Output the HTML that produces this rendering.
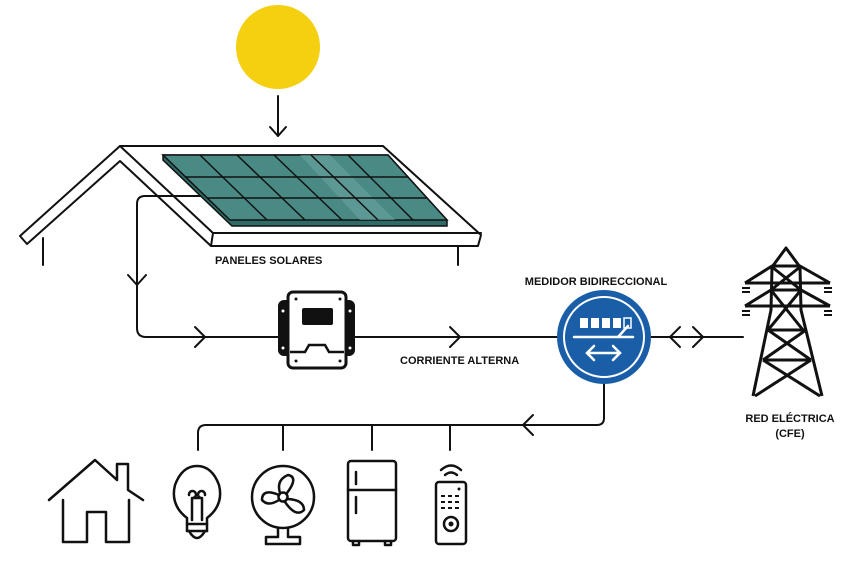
<!DOCTYPE html>
<html><head><meta charset="utf-8"><style>
html,body{margin:0;padding:0;background:#fff;}
svg{display:block;}
text{font-family:"Liberation Sans",sans-serif;font-weight:bold;font-size:11px;fill:#111;}
</style></head><body>
<svg width="853" height="567" viewBox="0 0 853 567" xmlns="http://www.w3.org/2000/svg">
<rect width="853" height="567" fill="#fff"/>
<circle cx="278" cy="47" r="42" fill="#F5D010"/>
<g fill="none" stroke="#111" stroke-width="2" stroke-linejoin="round" stroke-linecap="round">
<line x1="278" y1="96" x2="278" y2="136"/>
<polyline points="270,127 278,136 286,127"/>
<polyline points="120,146 383,146 481,235 478,246 211,246 213,233 481,233"/>
<line x1="120" y1="146" x2="213" y2="233"/>
<polyline points="120,146 20,236 27,244 120,161 211,246"/>
<line x1="43" y1="238" x2="43" y2="265"/>
<line x1="458" y1="246" x2="458" y2="265"/>
</g>
<polygon points="163,155 388,155 447,220 447,226 232,226 163,160" fill="#2e6a66" stroke="#111" stroke-width="1.5"/>
<polygon points="163,155 388,155 447,220 230,220" fill="#4a8a85" stroke="#111" stroke-width="1.5"/>
<polygon points="300,155 330,155 395,220 360,220" fill="#6aa39e" opacity="0.6"/>
<g stroke="#111" stroke-width="1.5">
<line x1="185" y1="177" x2="408" y2="177"/>
<line x1="207" y1="198" x2="427" y2="198"/>
<line x1="200" y1="155" x2="267" y2="220"/>
<line x1="237" y1="155" x2="305" y2="220"/>
<line x1="274" y1="155" x2="342" y2="220"/>
<line x1="311" y1="155" x2="378" y2="220"/>
<line x1="348" y1="155" x2="413" y2="220"/>
</g>
<g fill="none" stroke="#111" stroke-width="2" stroke-linejoin="round" stroke-linecap="round">
<path d="M200,196 H145 Q137,196 137,204 V328 Q137,337 146,337 H282"/>
<polyline points="128,275 137,285 146,275"/>
<polyline points="195,327 205,337 195,347"/>
<line x1="355" y1="337" x2="558" y2="337"/>
<polyline points="450,327 460,337 450,347"/>
<line x1="651" y1="337" x2="743" y2="337"/>
<polyline points="680,327 670,337 680,347"/>
<polyline points="693,327 703,337 693,347"/>
<path d="M604,384 V418 Q604,425 597,425 H206 Q198,425 198,433 V450"/>
<polyline points="533,415 523,425 533,435"/>
<line x1="283" y1="425" x2="283" y2="450"/>
<line x1="372" y1="425" x2="372" y2="450"/>
<line x1="450" y1="425" x2="450" y2="450"/>
</g>
<rect x="278" y="300" width="77" height="56" rx="6" fill="#111"/>
<rect x="288" y="292" width="58" height="76" rx="5" fill="#fff" stroke="#111" stroke-width="3"/>
<rect x="302" y="308" width="31" height="17" rx="2" fill="#111"/>
<polyline points="290,352 305,352 309,345 325,345 329,352 344,352" fill="none" stroke="#111" stroke-width="2.5"/>
<g fill="#111"><circle cx="296" cy="299" r="1.5"/><circle cx="340" cy="299" r="1.5"/><circle cx="296" cy="361" r="1.5"/><circle cx="340" cy="361" r="1.5"/><circle cx="283" cy="311" r="1.5" fill="#fff"/><circle cx="350" cy="311" r="1.5" fill="#fff"/><circle cx="283" cy="348" r="1.5" fill="#fff"/><circle cx="350" cy="348" r="1.5" fill="#fff"/></g>
<text x="400" y="364">CORRIENTE ALTERNA</text>
<text x="596" y="285" text-anchor="middle">MEDIDOR BIDIRECCIONAL</text>
<circle cx="604" cy="337" r="47" fill="#1a5ea8"/>
<circle cx="604" cy="337" r="40" fill="none" stroke="#fff" stroke-width="2"/>
<g fill="#fff"><rect x="580" y="318" width="8" height="10"/><rect x="591" y="318" width="8" height="10"/><rect x="602" y="318" width="8" height="10"/><rect x="613" y="318" width="8" height="10"/></g>
<path d="M624,328 V318 H631 V328 Z" fill="none" stroke="#fff" stroke-width="1.5"/>
<g stroke="#fff" stroke-width="2.5" fill="none" stroke-linecap="round">
<line x1="574" y1="337" x2="633" y2="337"/><line x1="618" y1="337" x2="628" y2="326"/>
<line x1="587" y1="353" x2="620" y2="353"/><polyline points="594,346 587,353 594,360"/><polyline points="613,346 620,353 613,360"/>
</g>
<!-- tower -->
<g fill="none" stroke="#111" stroke-width="3" stroke-linejoin="round">
<polyline points="753,396 771,310 772,267 786,248 800,267 801,310 822,396"/>
<polyline points="745,283 772,266 800,266 830,283"/>
<line x1="745" y1="283" x2="830" y2="283"/>
<polyline points="745,306 771,290 801,290 830,306"/>
<line x1="745" y1="306" x2="830" y2="306"/>
<line x1="772" y1="267" x2="801" y2="290"/><line x1="800" y1="267" x2="771" y2="290"/>
<line x1="771" y1="290" x2="803" y2="330"/><line x1="801" y1="290" x2="768" y2="330"/>
<line x1="768" y1="330" x2="806" y2="330"/>
<line x1="768" y1="330" x2="811" y2="360"/><line x1="806" y1="330" x2="763" y2="360"/>
<line x1="763" y1="360" x2="811" y2="360"/>
<line x1="763" y1="360" x2="820" y2="396"/><line x1="811" y1="360" x2="755" y2="396"/>
</g>
<g stroke="#111" stroke-width="2"><line x1="742" y1="288" x2="750" y2="288"/><line x1="742" y1="292" x2="750" y2="292"/><line x1="824" y1="288" x2="832" y2="288"/><line x1="824" y1="292" x2="832" y2="292"/><line x1="742" y1="311" x2="750" y2="311"/><line x1="742" y1="315" x2="750" y2="315"/><line x1="824" y1="311" x2="832" y2="311"/><line x1="824" y1="315" x2="832" y2="315"/></g>
<text x="790" y="422" text-anchor="middle">RED ELÉCTRICA</text>
<text x="790" y="437" text-anchor="middle">(CFE)</text>
<g fill="none" stroke="#111" stroke-width="2.5" stroke-linejoin="round" stroke-linecap="round">
<polyline points="49,500 95,460 117,480 117,464 128,464 128,490 143,500"/>
<polyline points="63,500 63,542 87,542 87,512 106,512 106,542 129,542 129,500"/>
<path d="M187,531 V518 Q170,505 175,485 Q182,466 197,466 Q212,466 219,485 Q224,505 207,518 V531"/>
<path d="M192,520 V498 M202,520 V498 M192,498 a3.5,3.5 0 1 0 -3,-3 M202,498 a3.5,3.5 0 1 1 3,-3 M192,498 H202"/>
<line x1="187" y1="524" x2="207" y2="524"/><line x1="187" y1="531" x2="207" y2="531"/><path d="M189,531 Q197,545 205,531"/>
<circle cx="283" cy="497" r="31"/>
<circle cx="283" cy="497" r="4.5"/>
<path d="M280,493 Q276,480 288,475 Q299,477 287,493 M288,499 Q304,500 304,510 Q296,518 285,502 M279,500 Q268,507 262,500 Q262,488 279,495"/>
<path d="M278,528 V537 H266 V544 H300 V537 H288 V528"/>
<rect x="348" y="461" width="48" height="80" rx="3"/><line x1="348" y1="490" x2="396" y2="490"/>
<line x1="356" y1="472" x2="356" y2="484"/><line x1="356" y1="497" x2="356" y2="513"/>
<path d="M353,541 v4 h6 v-4 M385,541 v4 h6 v-4"/>
<rect x="436" y="482" width="30" height="62" rx="3"/>
<circle cx="451" cy="524" r="7"/>
<path d="M441,470 Q451,461 461,470 M445,475 Q451,470 457,475"/>
</g>
<g fill="#111"><circle cx="451" cy="524" r="2.5"/><circle cx="459" cy="489" r="1.5"/>
<rect x="441" y="495" width="4" height="2"/><rect x="448" y="495" width="4" height="2"/><rect x="455" y="495" width="4" height="2"/>
<rect x="441" y="501" width="4" height="2"/><rect x="448" y="501" width="4" height="2"/><rect x="455" y="501" width="4" height="2"/>
<rect x="441" y="507" width="4" height="2"/><rect x="448" y="507" width="4" height="2"/><rect x="455" y="507" width="4" height="2"/></g>
<text x="215" y="264">PANELES SOLARES</text>
</svg>
</body></html>
